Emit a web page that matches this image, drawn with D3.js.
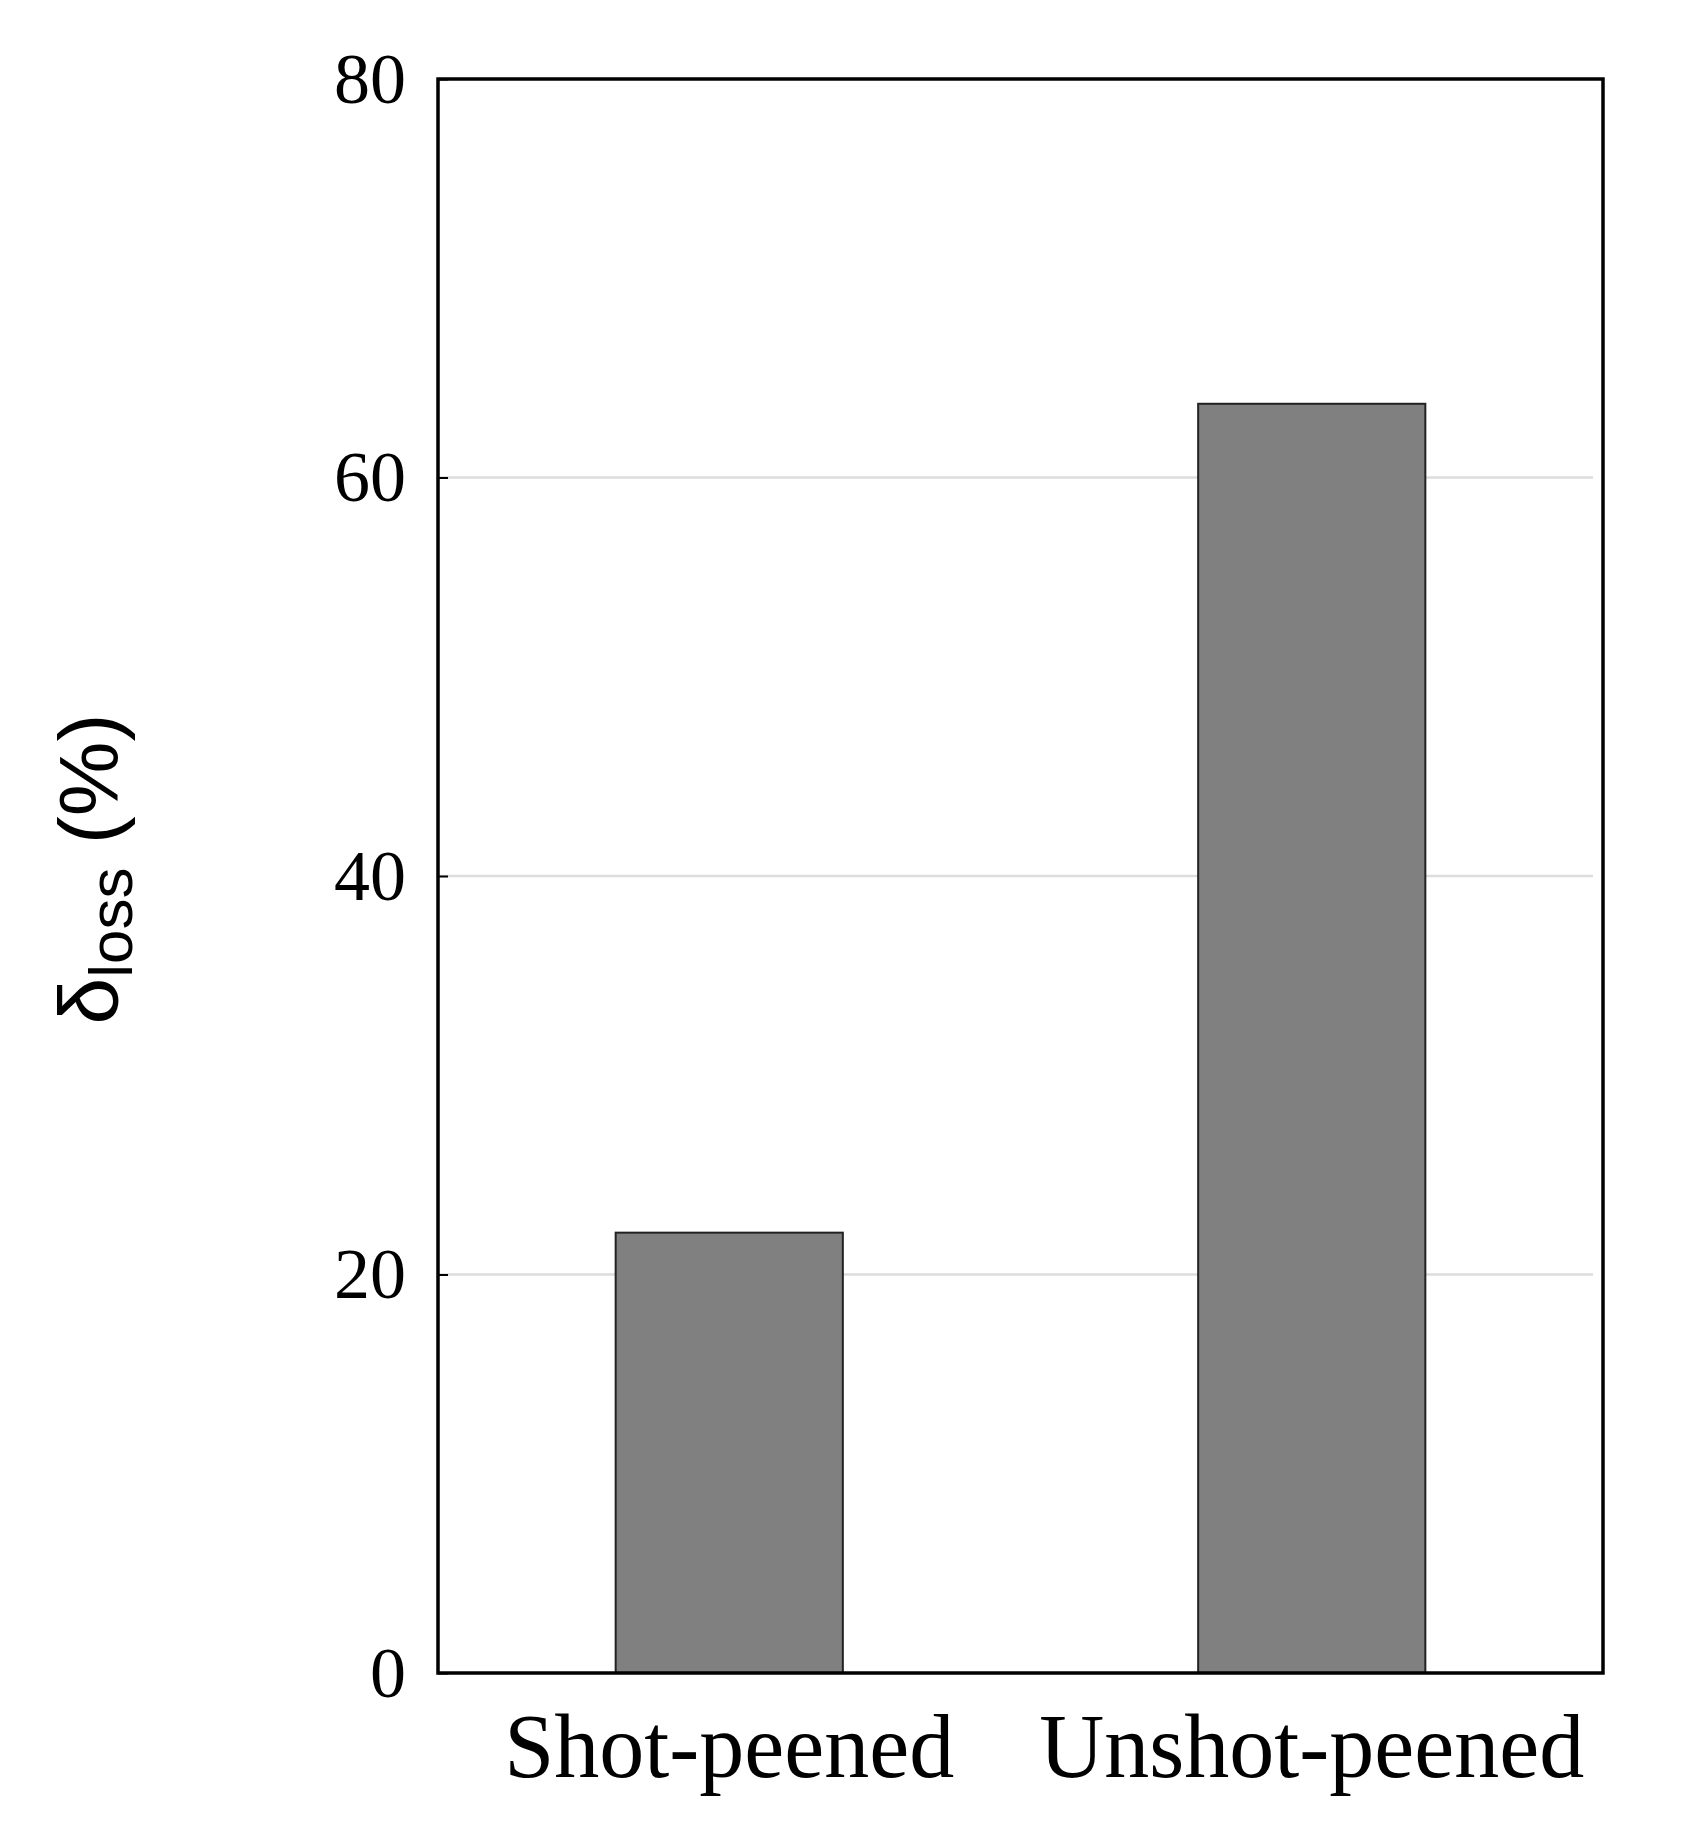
<!DOCTYPE html>
<html>
<head>
<meta charset="utf-8">
<script src="https://cdn.jsdelivr.net/npm/d3@7"></script>
<style>
  body { margin: 0; background: #fff; }
  svg text { fill: #000; }
</style>
</head>
<body>
<svg id="chart" width="1691" height="1837"></svg>
<script>
// data
const categories = ['Shot-peened', 'Unshot-peened'];
const lossValues = [22.1, 63.7];
const yTicks = [0, 20, 40, 60, 80];

const margin = { left: 438, right: 88, top: 79, bottom: 164 };
const width = 1691, height = 1837;
const svg = d3.select('#chart');

const x = d3.scaleBand()
    .domain(categories)
    .range([margin.left, width - margin.right])
    .paddingInner(0.61)
    .paddingOuter(0.305);

const y = d3.scaleLinear()
    .domain([0, 80])
    .range([height - margin.bottom, margin.top]);

// grid lines
svg.append('g')
    .selectAll('line')
    .data(yTicks.filter(t => t > 0 && t < 80))
    .enter()
    .append('line')
    .attr('x1', margin.left)
    .attr('x2', width - margin.right - 10)
    .attr('y1', d => y(d))
    .attr('y2', d => y(d))
    .attr('stroke', '#dddddd')
    .attr('stroke-width', 2.5);

// bars
svg.append('g')
    .selectAll('rect')
    .data(lossValues)
    .enter()
    .append('rect')
    .attr('x', (d, i) => x(categories[i]))
    .attr('width', x.bandwidth())
    .attr('y', d => y(d))
    .attr('height', d => y(0) - y(d))
    .attr('fill', '#808080')
    .attr('stroke', '#222')
    .attr('stroke-width', 2);

// y axis
const yAxis = svg.append('g')
    .attr('transform', `translate(${margin.left},0)`)
    .call(d3.axisLeft(y).tickValues(yTicks).tickSize(-10).tickPadding(32));
yAxis.select('.domain').remove();
yAxis.selectAll('line').attr('stroke', '#000').attr('stroke-width', 2);
yAxis.selectAll('text')
    .attr('font-family', '"Liberation Serif", serif')
    .attr('font-size', 72);

// x axis labels
const xAxis = svg.append('g')
    .attr('transform', `translate(0,${height - margin.bottom})`)
    .call(d3.axisBottom(x).tickSize(0).tickPadding(40));
xAxis.select('.domain').remove();
xAxis.selectAll('text')
    .attr('dy', '0.71em')
    .attr('font-family', '"Liberation Serif", serif')
    .attr('font-size', 90);

// frame
svg.append('rect')
    .attr('x', margin.left)
    .attr('y', margin.top)
    .attr('width', width - margin.left - margin.right)
    .attr('height', height - margin.top - margin.bottom)
    .attr('fill', 'none')
    .attr('stroke', '#000')
    .attr('stroke-width', 3.5);

// y label
const yl = svg.append('text')
    .attr('transform', 'translate(118,869) rotate(-90)')
    .attr('text-anchor', 'middle')
    .attr('font-family', '"Liberation Sans", Arial, sans-serif')
    .attr('font-size', 84);
yl.append('tspan').text('δ');
yl.append('tspan').attr('font-size', 62).attr('dy', 14).text('loss');
yl.append('tspan').attr('dy', -14).text(' (%)');
</script>
</body>
</html>
